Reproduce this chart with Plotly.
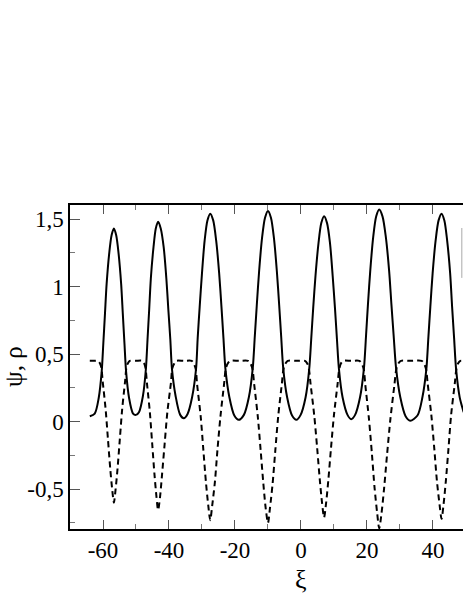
import plotly.graph_objects as go

# psi (solid)
psi_x = [-64.0, -62.5, -61.3, -60.4, -59.9, -59.4, -58.9, -58.1, -57.4, -56.7,
         -56.0, -55.3, -54.5, -54.0, -53.5, -53.0, -52.1, -50.9, -50.0,
         -49.1, -47.9, -47.0, -46.5, -46.0, -45.5, -44.7, -44.0, -43.3,
         -42.5, -41.6, -40.8, -40.2, -39.6, -39.1, -38.0, -36.6, -35.5,
         -34.4, -33.0, -31.8, -31.3, -30.7, -30.0, -29.2, -28.35, -27.5,
         -26.6, -25.7, -24.8, -24.1, -23.5, -22.9, -21.7, -20.2, -18.9,
         -17.3, -15.8, -14.6, -14.0, -13.4, -12.7, -11.8, -10.9, -10.0,
         -9.1, -8.2, -7.3, -6.6, -6.0, -5.4, -4.2, -2.7, -1.4,
         -0.1, 1.4, 2.5, 3.1, 3.7, 4.4, 5.3, 6.15, 7.0,
         7.9, 8.8, 9.6, 10.3, 10.9, 11.5, 12.6, 14.1, 15.2,
         16.4, 17.9, 19.1, 19.7, 20.3, 21.0, 21.9, 22.8, 23.7,
         24.7, 25.7, 26.7, 27.4, 28.1, 28.8, 30.1, 31.7, 33.1,
         35.3, 36.8, 38.0, 38.6, 39.2, 39.9, 40.8, 41.7, 42.6,
         43.45, 44.3, 45.2, 45.8, 46.4, 47.0, 48.1, 49.3]
psi_y = [0.04, 0.06, 0.175, 0.37, 0.58, 0.80, 1.02, 1.25, 1.38, 1.43,
         1.38, 1.25, 1.02, 0.80, 0.58, 0.37, 0.175, 0.06, 0.05,
         0.07, 0.19, 0.39, 0.61, 0.83, 1.06, 1.29, 1.43, 1.48,
         1.43, 1.29, 1.06, 0.83, 0.61, 0.39, 0.19, 0.05, 0.025,
         0.055, 0.18, 0.39, 0.62, 0.85, 1.10, 1.34, 1.49, 1.54,
         1.49, 1.34, 1.10, 0.85, 0.62, 0.39, 0.18, 0.045, 0.013,
         0.05, 0.18, 0.40, 0.63, 0.86, 1.11, 1.36, 1.51, 1.56,
         1.51, 1.36, 1.11, 0.86, 0.63, 0.40, 0.18, 0.045, 0.013,
         0.05, 0.18, 0.39, 0.61, 0.84, 1.08, 1.32, 1.47, 1.52,
         1.47, 1.32, 1.08, 0.84, 0.61, 0.39, 0.18, 0.05, 0.018,
         0.05, 0.18, 0.40, 0.63, 0.87, 1.12, 1.37, 1.52, 1.57,
         1.52, 1.37, 1.12, 0.87, 0.63, 0.40, 0.18, 0.04, 0.007,
         0.045, 0.18, 0.39, 0.62, 0.85, 1.10, 1.34, 1.49, 1.54,
         1.49, 1.34, 1.10, 0.85, 0.62, 0.39, 0.18, 0.07]

# rho (dashed)
rho_x = [-64.0, -62.6, -61.5, -60.9, -60.5, -60.1, -59.2, -58.5, -57.8, -57.2, -56.7,
         -56.2, -55.6, -54.9, -54.2, -53.3, -52.9, -52.5, -51.9, -50.0,
         -48.1, -47.5, -47.1, -46.7, -45.8, -45.1, -44.4, -43.8, -43.3,
         -42.7, -42.1, -41.3, -40.5, -39.4, -39.0, -38.4, -37.8, -35.5,
         -33.1, -32.5, -31.9, -31.5, -30.4, -29.6, -28.8, -28.1, -27.5,
         -26.9, -26.1, -25.3, -24.4, -23.3, -22.8, -22.2, -21.5, -18.8,
         -16.0, -15.3, -14.7, -14.2, -13.1, -12.2, -11.4, -10.7, -10.0,
         -9.4, -8.6, -7.8, -6.9, -5.8, -5.3, -4.7, -4.0, -1.4,
         1.2, 1.9, 2.4, 2.9, 4.0, 4.9, 5.7, 6.4, 7.0,
         7.6, 8.3, 9.1, 10.0, 11.1, 11.6, 12.1, 12.8, 15.2,
         17.7, 18.4, 19.0, 19.5, 20.6, 21.5, 22.3, 23.1, 23.7,
         24.4, 25.2, 26.1, 27.1, 28.3, 28.9, 29.5, 30.3, 33.2,
         36.6, 37.3, 37.9, 38.4, 39.5, 40.4, 41.2, 42.0, 42.6,
         43.2, 43.9, 44.7, 45.5, 46.6, 47.1, 47.6, 48.3, 49.3]
rho_y = [0.45, 0.45, 0.45, 0.43, 0.40, 0.30, 0.09, -0.13, -0.35, -0.505, -0.60,
         -0.505, -0.35, -0.13, 0.09, 0.30, 0.40, 0.43, 0.45, 0.45,
         0.45, 0.43, 0.395, 0.29, 0.07, -0.16, -0.39, -0.555, -0.655,
         -0.555, -0.39, -0.16, 0.07, 0.29, 0.395, 0.43, 0.45, 0.45,
         0.45, 0.43, 0.39, 0.28, 0.04, -0.205, -0.45, -0.62, -0.73,
         -0.62, -0.45, -0.205, 0.04, 0.28, 0.39, 0.43, 0.45, 0.45,
         0.45, 0.43, 0.39, 0.28, 0.04, -0.22, -0.46, -0.64, -0.75,
         -0.64, -0.46, -0.22, 0.04, 0.28, 0.39, 0.43, 0.45, 0.45,
         0.45, 0.43, 0.39, 0.28, 0.05, -0.195, -0.43, -0.605, -0.71,
         -0.605, -0.43, -0.195, 0.05, 0.28, 0.39, 0.43, 0.45, 0.45,
         0.45, 0.43, 0.39, 0.27, 0.02, -0.24, -0.49, -0.68, -0.79,
         -0.68, -0.49, -0.24, 0.02, 0.27, 0.39, 0.43, 0.45, 0.45,
         0.45, 0.43, 0.39, 0.28, 0.05, -0.2, -0.44, -0.615, -0.72,
         -0.615, -0.44, -0.2, 0.05, 0.28, 0.39, 0.43, 0.45, 0.45]

y_ticks = [-0.5, 0, 0.5, 1, 1.5]
y_ticktext = ["-0,5", "0", "0,5", "1", "1,5"]
x_ticks = [-60, -40, -20, 0, 20, 40]
x_ticktext = ["-60", "-40", "-20", "0", "20", "40"]

FONT = "Liberation Serif"

fig = go.Figure()
fig.add_trace(go.Scatter(x=psi_x, y=psi_y, mode="lines",
                         line=dict(color="black", width=2, shape="spline", smoothing=0.8)))
fig.add_trace(go.Scatter(x=rho_x, y=rho_y, mode="lines",
                         line=dict(color="black", width=2, dash="6px,4px",
                                   shape="spline", smoothing=0.8)))

fig.update_layout(
    width=463, height=599,
    margin=dict(l=70, r=0, t=205, b=70),
    plot_bgcolor="white", paper_bgcolor="white",
    showlegend=False,
    font=dict(family=FONT, size=23, color="black"),
)
fig.update_xaxes(
    range=[-70, 49.1], showgrid=False, zeroline=False,
    showline=True, linecolor="black", linewidth=1.5, mirror="allticks",
    ticks="inside", ticklen=9, tickwidth=1, tickcolor="#555",
    tickvals=x_ticks, ticktext=x_ticktext,
    minor=dict(ticks="inside", ticklen=5, dtick=10, tick0=0, tickcolor="#777"),
)
fig.update_yaxes(
    range=[-0.795, 1.604], showgrid=False, zeroline=False,
    showline=True, linecolor="black", linewidth=1.5,
    ticks="inside", ticklen=10, tickwidth=1, tickcolor="#555",
    tickvals=y_ticks, ticktext=y_ticktext,
    minor=dict(ticks="inside", ticklen=5, dtick=0.25, tick0=0, tickcolor="#777"),
)

# axis titles (x title sits at xi=0 because the original panel is cropped on the right)
fig.add_annotation(text="ξ", x=0, xref="x", y=-0.155, yref="paper",
                   xanchor="center", yanchor="middle",
                   showarrow=False, font=dict(family=FONT, size=26))
fig.add_annotation(text="ψ, ρ", x=-0.145, xref="paper", y=0.5, yref="paper",
                   xanchor="center", yanchor="middle",
                   textangle=-90, showarrow=False, font=dict(family=FONT, size=25))

# edge of the legend box visible at the crop border
fig.add_shape(type="line", xref="paper", yref="paper", x0=0.997, x1=0.997,
              y0=0.775, y1=0.929, line=dict(color="#aaa", width=1))

fig.write_html("out.html", config={"displayModeBar": False},
               post_script="document.body.style.margin='0';")
